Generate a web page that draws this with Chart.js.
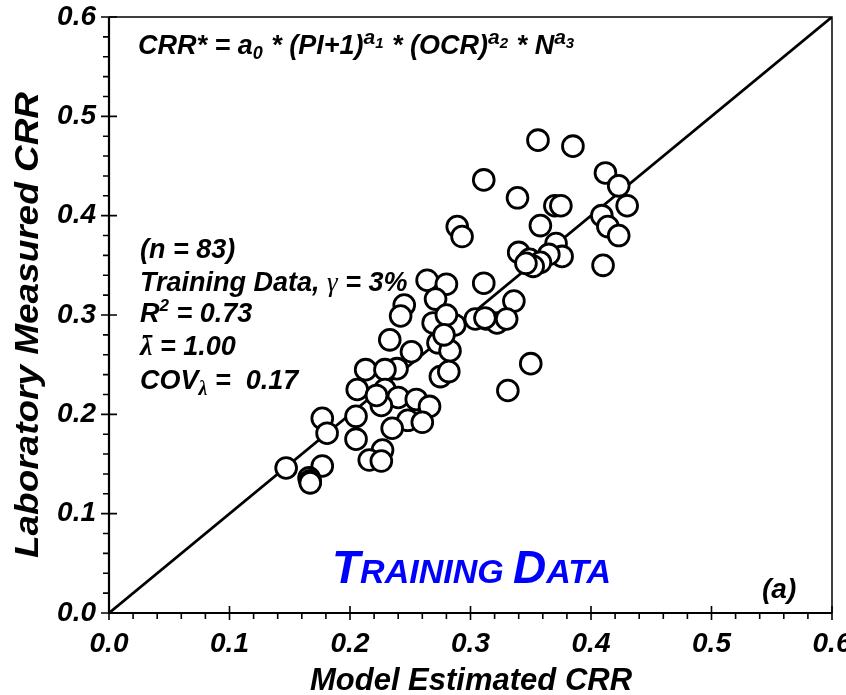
<!DOCTYPE html>
<html><head><meta charset="utf-8">
<script src="https://cdn.jsdelivr.net/npm/chart.js@4.4.1/dist/chart.umd.min.js"></script>
<style>html,body{margin:0;padding:0;background:#fff;overflow:hidden}#wrap{width:846px;height:695px}</style>
</head><body><div id="wrap"><canvas id="c" width="846" height="695"></canvas></div>
<script>
// Model estimated CRR (x) and laboratory measured CRR (y)
const modelCRR = [0.356,0.385,0.311,0.339,0.412,0.423,0.370,0.375,0.430,0.358,0.409,0.414,0.423,0.371,0.340,0.376,0.365,0.349,0.358,0.352,0.346,0.410,0.311,0.336,0.313,0.322,0.330,0.350,0.331,0.289,0.293,0.264,0.280,0.271,0.245,0.242,0.279,0.269,0.287,0.304,0.312,0.280,0.233,0.251,0.273,0.283,0.278,0.275,0.282,0.213,0.239,0.229,0.206,0.229,0.240,0.255,0.266,0.226,0.222,0.248,0.260,0.235,0.205,0.177,0.181,0.205,0.227,0.216,0.226,0.147,0.177,0.166,0.167,0.167];
const labCRR   = [0.476,0.470,0.436,0.418,0.443,0.430,0.410,0.410,0.410,0.390,0.400,0.389,0.380,0.372,0.363,0.359,0.361,0.356,0.353,0.349,0.352,0.350,0.332,0.314,0.296,0.292,0.296,0.251,0.224,0.389,0.379,0.335,0.331,0.316,0.310,0.299,0.294,0.292,0.290,0.296,0.297,0.300,0.275,0.263,0.272,0.264,0.280,0.238,0.243,0.245,0.246,0.245,0.225,0.225,0.217,0.215,0.208,0.209,0.219,0.194,0.192,0.186,0.198,0.196,0.181,0.175,0.164,0.154,0.153,0.146,0.148,0.136,0.133,0.131];
// 1:1 line
const lineX = [0.0, 0.6];
const lineY = [0.0, 0.6];
// Axis ticks
const majorTicks = [0.0,0.1,0.2,0.3,0.4,0.5,0.6];
const minorTicks = [0.02,0.04,0.06,0.08,0.12,0.14,0.16,0.18,0.22,0.24,0.26,0.28,0.32,0.34,0.36,0.38,0.42,0.44,0.46,0.48,0.52,0.54,0.56,0.58];
const xTitle = 'Model Estimated CRR';
const yTitle = 'Laboratory Measured CRR';

const points = modelCRR.map((x,i)=>({x:x,y:labCRR[i]}));
const linePts = lineX.map((x,i)=>({x:x,y:lineY[i]}));
const FF = '"Liberation Sans", Arial, sans-serif';
const SF = '"Liberation Serif", serif';

function runs(ctx, x, y, parts){
  let cx = x;
  for(const p of parts){
    ctx.font = 'italic bold ' + p.s + 'px ' + (p.f||FF);
    ctx.fillText(p.t, cx, y + (p.dy||0));
    cx += ctx.measureText(p.t).width + (p.gap||0);
  }
  return cx;
}

const decor = {
  id:'decor',
  afterDraw(chart){
    const ctx = chart.ctx, xs = chart.scales.x, ys = chart.scales.y, ca = chart.chartArea;
    ctx.save();
    ctx.strokeStyle = '#000'; ctx.fillStyle = '#000';
    // frame
    ctx.lineWidth = 1.5;
    ctx.beginPath(); ctx.moveTo(ca.left, ca.top); ctx.lineTo(ca.right, ca.top); ctx.lineTo(ca.right, ca.bottom); ctx.stroke();
    ctx.lineWidth = 2.2;
    ctx.beginPath(); ctx.moveTo(ca.left, ca.top); ctx.lineTo(ca.left, ca.bottom); ctx.lineTo(ca.right, ca.bottom); ctx.stroke();
    // ticks
    ctx.lineWidth = 1.6;
    ctx.beginPath();
    for(const v of majorTicks){
      const px = xs.getPixelForValue(v), py = ys.getPixelForValue(v);
      ctx.moveTo(px, ca.bottom-7); ctx.lineTo(px, ca.bottom+7);
      ctx.moveTo(ca.left-8, py); ctx.lineTo(ca.left+8, py);
    }
    for(const v of minorTicks){
      const px = xs.getPixelForValue(v), py = ys.getPixelForValue(v);
      ctx.moveTo(px, ca.bottom); ctx.lineTo(px, ca.bottom+6);
      ctx.moveTo(ca.left-6, py); ctx.lineTo(ca.left, py);
    }
    ctx.stroke();
    // axis titles
    ctx.textBaseline = 'alphabetic';
    ctx.font = 'italic bold 31px ' + FF;
    ctx.textAlign = 'center';
    ctx.fillText(xTitle, 471, 690);
    ctx.save();
    ctx.translate(38, 325);
    ctx.rotate(-Math.PI/2);
    ctx.font = 'italic bold 33px ' + FF;
    const w = ctx.measureText(yTitle).width;
    ctx.scale(466/w, 1);
    ctx.fillText(yTitle, 0, 0);
    ctx.restore();
    // equation
    ctx.textAlign = 'left';
    let cx = runs(ctx, 138, 54, [{t:'CRR* = a',s:27},{t:'0',s:18,dy:5,gap:1}]);
    cx = runs(ctx, cx, 54, [{t:' * (PI+1)',s:27},{t:'a',s:21,dy:-10},{t:'1',s:15,dy:-6,gap:1}]);
    cx = runs(ctx, cx, 54, [{t:' * (OCR)',s:27},{t:'a',s:21,dy:-10},{t:'2',s:15,dy:-6,gap:1}]);
    cx = runs(ctx, cx, 54, [{t:' * N',s:27},{t:'a',s:21,dy:-10},{t:'3',s:15,dy:-6}]);
    // statistics
    runs(ctx, 140, 258, [{t:'(n = 83)',s:27}]);
    let gx = runs(ctx, 140, 291, [{t:'Training Data, ',s:27}]);
    ctx.font = 'italic 27px ' + SF;
    ctx.fillText('γ', gx, 291); gx += ctx.measureText('γ').width;
    runs(ctx, gx, 291, [{t:' = 3%',s:27}]);
    runs(ctx, 140, 322, [{t:'R',s:27},{t:'2',s:17,dy:-11},{t:' = 0.73',s:27}]);
    ctx.font = 'italic bold 28px ' + SF;
    ctx.fillText('λ', 140, 355);
    const lw = ctx.measureText('λ').width;
    ctx.fillRect(143, 335, lw-3, 2.4);
    runs(ctx, 140+lw, 355, [{t:' = 1.00',s:27}]);
    let c2 = runs(ctx, 140, 389, [{t:'COV',s:27}]);
    ctx.font = 'italic bold 20px ' + SF;
    ctx.fillText('λ', c2, 395); c2 += ctx.measureText('λ').width;
    runs(ctx, c2, 389, [{t:' =  0.17',s:27}]);
    // panel label
    ctx.fillStyle = '#0000FF';
    runs(ctx, 332, 583, [{t:'T',s:46},{t:'RAINING ',s:34},{t:'D',s:46},{t:'ATA',s:34}]);
    ctx.fillStyle = '#000';
    runs(ctx, 762, 598, [{t:'(a)',s:28}]);
    ctx.restore();
  }
};

new Chart(document.getElementById('c'), {
  type:'scatter',
  data:{datasets:[
    {label:'data', data:points, order:1, pointRadius:10.4, pointHoverRadius:10.4, pointBackgroundColor:'#fff', pointBorderColor:'#000', pointBorderWidth:2.8, showLine:false},
    {label:'1:1', data:linePts, order:2, showLine:true, borderColor:'#000', borderWidth:2.8, pointRadius:0, fill:false}
  ]},
  options:{
    responsive:false, devicePixelRatio:1, animation:false,
    layout:{padding:{left:0,right:14,top:17,bottom:0}},
    plugins:{legend:{display:false}, tooltip:{enabled:false}},
    scales:{
      x:{type:'linear', min:0, max:0.6,
        afterBuildTicks(s){ s.ticks = majorTicks.map(v=>({value:v})); },
        afterFit(s){ s.height = 82; s.paddingLeft = 0; s.paddingRight = 0; },
        grid:{display:false, drawTicks:false}, border:{display:false},
        ticks:{padding:14, color:'#000', font:{family:FF, size:28, style:'italic', weight:'bold'}, maxRotation:0, autoSkip:false, callback:v=>v.toFixed(1)}},
      y:{type:'linear', min:0, max:0.6,
        afterBuildTicks(s){ s.ticks = majorTicks.map(v=>({value:v})); },
        afterFit(s){ s.width = 109; s.paddingTop = 0; s.paddingBottom = 0; },
        grid:{display:false, drawTicks:false}, border:{display:false},
        ticks:{padding:13, color:'#000', font:{family:FF, size:28, style:'italic', weight:'bold'}, autoSkip:false, callback:v=>v.toFixed(1)}}
    }
  },
  plugins:[decor]
});
</script>
</body></html>
